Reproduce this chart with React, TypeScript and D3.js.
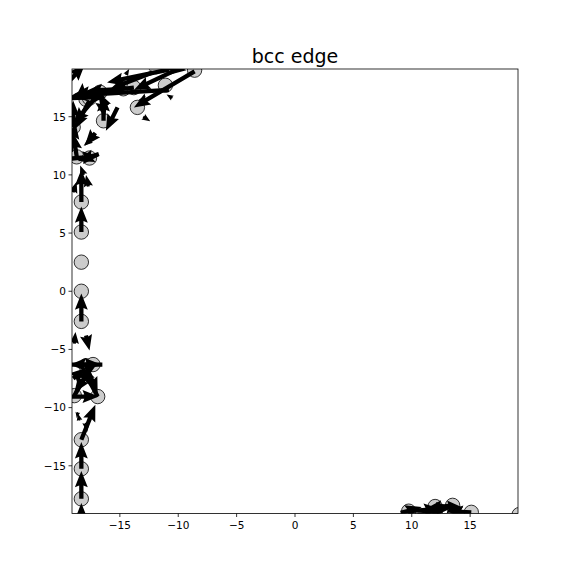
import React from 'react';
import * as d3 from 'd3';

// atom positions (data units)
const atomX = [-18.3, -18.3, -18.3, -18.3, -18.3, -18.3, -18.3, -18.3,
  -16.9, -18.9, -17.9, -17.3,
  -18.7, -17.6, -19.0, -17.9, -17.6, -16.7, -16.4, -14.7, -13.8, -13.5, -11.1, -8.6, -11.9,
  9.74, 12.0, 13.5, 15.1, 19.2];
const atomY = [7.67, 5.09, 2.5, 0, -2.59, -12.76, -15.26, -17.84,
  -9.05, -8.97, -6.4, -6.3,
  11.55, 11.45, 14.1, 16.5, 16.6, 17.1, 14.65, 17.4, 17.5, 15.8, 17.7, 19.0, 19.3,
  -18.9, -18.5, -18.4, -19.0, -19.2];

// displacement arrows: tail position and vector (data units)
const arrowX = [-18.3, -18.3, -18.3, -18.3, -18.6, -18.45, -17.9,
  -16.5, -19.2, -18.9, -16.9, -17.9, -17.3, -19.2, -19.0, -18.9, -17.9,
  -18.3, -18.3, -18.3, -19.0, -17.7, -18.1,
  -19.2, -16.8, -17.1, -18.7, -19.2, -19.0,
  -10.8, -8.6, -11.9, -10.8, -13.8, -16.4, -16.7, -18.3, -19.2, -16.7, -16.0, -13.2, -13.0, -10.5, -14.5, -15.2, -17.5,
  -9.6, -12.2, -19.2, -17.6, -14.7,
  9.05, 9.74, 12.0, 13.5, 15.1, 10.5, 18.9, 11.5];
const arrowY = [-19.9, -17.84, -15.26, -12.76, -10.4, -11.1, -11.3,
  -6.3, -6.3, -8.97, -9.05, -6.4, -6.4, -9.05, -7.5, -4.5, -3.8,
  -2.59, 5.09, 7.67, 8.5, 9.0, 10.0,
  11.4, 11.8, 13.6, 11.6, 12.0, 14.1,
  19.05, 18.9, 19.3, 17.3, 17.5, 14.65, 17.1, 16.5, 18.2, 17.1, 16.0, 16.3, 15.0, 16.6, 18.6, 15.8, 13.0,
  19.3, 18.8, 16.6, 16.4, 17.4,
  -19.05, -18.9, -18.5, -18.4, -19.0, -19.2, -19.25, -18.7];
const arrowU = [0, 0, 0, 1.2, -0.1, -0.15, 0.1,
  -2.8, 2.6, 1.45, -1.4, 1.0, -1.6, 2.4, 1.1, 0.1, 0.3,
  0, 0, 0, 0.3, -0.2, -0.3,
  2.4, -1.8, -0.9, -0.3, 0.4, 0,
  -5.3, -5.2, 2.6, -8.4, -5.2, 0, 0.4, 0.1, 1.2, -2.3, -0.3, 0.4, 0.6, -0.5, 0.3, -1.0, -0.6,
  -4.2, -3.6, 3.0, -1.3, -3.2,
  1.8, 2.7, 2.4, -2.3, -2.1, 2.2, 0.3, 2.0];
const arrowV = [1.7, 2.4, 2.3, 3.0, -0.5, 0.6, -0.8,
  0, 0, 2.5, 2.6, -2.4, -2.3, 0, 0.9, 1.0, -1.3,
  2.4, 2.2, 2.8, 0.9, 1.0, 0.8,
  0.2, -0.6, -1.1, 2.0, 2.5, 2.3,
  -1.1, -3.1, -0.3, -0.5, -0.6, 2.2, -2.2, 1.4, 1.3, -2.7, 0.6, 0.5, -0.4, 0.3, 0.5, -2.0, -0.5,
  -2.0, -1.4, 0.1, -2.5, -0.2,
  0.5, 0.2, -0.1, -0.3, 0.1, 0.2, 0.2, 0.1];

const xTicks = [-15, -10, -5, 0, 5, 10, 15];
const yTicks = [-15, -10, -5, 0, 5, 10, 15];

const W = 576, H = 576;
const left = 72, right = 518, top = 69, bottom = 513.5;

function arrowPath(x0: number, y0: number, x1: number, y1: number) {
  const dx = x1 - x0, dy = y1 - y0;
  const len = Math.sqrt(dx * dx + dy * dy);
  if (len < 0.01) return '';
  const w = 4.3;
  const headLen = 3.8 * w, headAxis = 3.4 * w, headW = 3 * w;
  let s = 1;
  let L = len;
  if (len < headLen) { s = len / headLen; L = headLen; }
  const hw = w / 2, hh = headW / 2;
  const pts: [number, number][] = [
    [0, -hw], [L - headAxis, -hw], [L - headLen, -hh], [L, 0],
    [L - headLen, hh], [L - headAxis, hw], [0, hw]
  ];
  const c = dx / len, sn = dy / len;
  return 'M' + pts.map(([px, py]) => {
    const a = px * s, b = py * s;
    return [x0 + a * c - b * sn, y0 + a * sn + b * c].join(',');
  }).join('L') + 'Z';
}

export default function App() {
  React.useEffect(() => { document.body.style.margin = '0'; }, []);

  const x = d3.scaleLinear().domain([-19.1, 19.1]).range([left, right]);
  const y = d3.scaleLinear().domain([-19.1, 19.1]).range([bottom, top]);

  const font = 'DejaVu Sans, sans-serif';

  return (
    <svg width={W} height={H} style={{ display: 'block', background: '#fff' }}>
      <defs>
        <clipPath id="plotclip">
          <rect x={left} y={top} width={right - left} height={bottom - top} />
        </clipPath>
      </defs>
      <text x={(left + right) / 2} y={63} textAnchor="middle" fontFamily={font} fontSize={19}>bcc edge</text>
      <g clipPath="url(#plotclip)">
        {atomX.map((ax, i) => (
          <circle key={'a' + i} cx={x(ax)} cy={y(atomY[i])} r={7.2} fill="#cccccc" stroke="#000" strokeWidth={0.8} />
        ))}
        {arrowX.map((tx, i) => (
          <path key={'q' + i} d={arrowPath(x(tx), y(arrowY[i]), x(tx + arrowU[i]), y(arrowY[i] + arrowV[i]))} fill="#000" />
        ))}
      </g>
      <rect x={left} y={top} width={right - left} height={bottom - top} fill="none" stroke="#000" strokeWidth={0.8} />
      {xTicks.map(t => (
        <g key={'x' + t}>
          <line x1={x(t)} x2={x(t)} y1={bottom} y2={bottom + 3.5} stroke="#000" strokeWidth={0.8} />
          <text x={x(t)} y={bottom + 15.5} textAnchor="middle" fontFamily={font} fontSize={10.5}>{t < 0 ? '\u2212' + (-t) : t}</text>
        </g>
      ))}
      {yTicks.map(t => (
        <g key={'y' + t}>
          <line x1={left - 3.5} x2={left} y1={y(t)} y2={y(t)} stroke="#000" strokeWidth={0.8} />
          <text x={left - 6} y={y(t) + 3.8} textAnchor="end" fontFamily={font} fontSize={10.5}>{t < 0 ? '\u2212' + (-t) : t}</text>
        </g>
      ))}
    </svg>
  );
}
